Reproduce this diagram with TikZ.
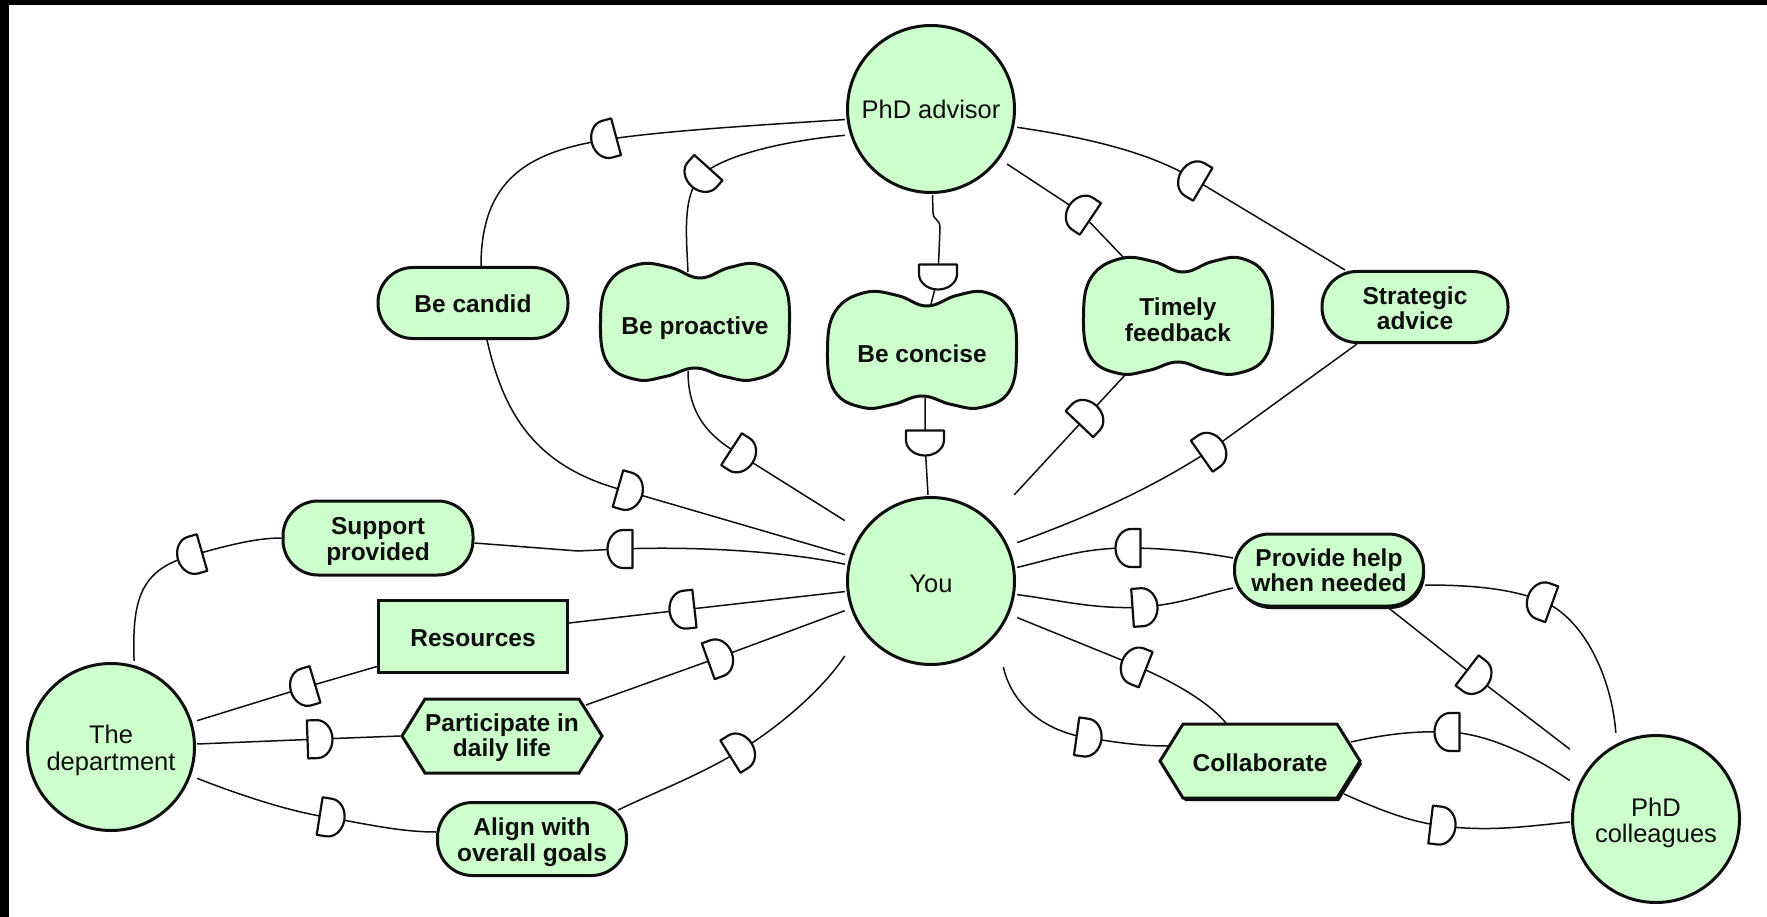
\documentclass[tikz,border=0pt]{standalone}
\usepackage{fontspec}
\setmainfont{Liberation Sans}
\usetikzlibrary{calc,shadows}

\definecolor{leaf}{RGB}{204,255,204}
\definecolor{ink}{RGB}{15,15,15}

% two-line label, set a little lower than its box is centred
\newcommand{\lowtext}[2]{\raisebox{-#1}[\height][\depth]{\begin{tabular}{@{}c@{}}#2\end{tabular}}}

\tikzset{
  ink line/.style={draw=ink, line width=3pt},
  % a strut on a one-line label sets where the text sits in its shape
  firstline/.style={execute at begin node={\rule{0pt}{#1}}},
  actor/.style={rectangle, inner sep=0pt, minimum size=172pt, align=center, text=ink,
    font=\fontsize{25.5pt}{26pt}\selectfont,
    path picture={\draw[ink line, fill=leaf] (path picture bounding box.center) circle[radius=83.5pt];}},
  labelfont/.style={font=\bfseries\fontsize{24.5pt}{25pt}\selectfont, text=ink, align=center, inner sep=0pt},
  goal/.style={labelfont, rectangle, rounded corners=35pt, ink line, fill=leaf},
  resource/.style={labelfont, rectangle, ink line, fill=leaf},
  raised/.style={drop shadow={shadow xshift=1.5pt, shadow yshift=-3pt, fill=ink, opacity=1}},
  softgoal/.style={labelfont, rectangle, minimum width=192pt, minimum height=118pt},
  task/.style={labelfont, rectangle, minimum width=203pt, minimum height=77pt},
  softshape/.pic={\draw[ink line, fill=leaf] plot[smooth cycle, tension=0.7] coordinates {
        (-94.5pt,0pt) (-86.5pt,39pt) (-57pt,57.5pt) (-24.5pt,54.5pt) (5pt,44pt)
        (34.5pt,54.5pt) (64pt,57.5pt) (88.5pt,39pt) (94.5pt,0pt) (87.5pt,-41pt)
        (59pt,-57.5pt) (29.5pt,-54.5pt) (0pt,-46pt) (-29.5pt,-54.5pt) (-59pt,-57.5pt)
        (-87.5pt,-41pt)};},
  taskshape/.pic={\draw[ink line, fill=leaf] (-100pt,0pt) -- (-77pt,37pt) -- (77pt,37pt)
        -- (100pt,0pt) -- (77pt,-37pt) -- (-77pt,-37pt) -- cycle;},
  raised taskshape/.pic={\fill[ink] (-98pt,-3pt) -- (-75pt,34pt) -- (79pt,34pt) -- (102pt,-3pt)
        -- (79pt,-40pt) -- (-75pt,-40pt) -- cycle;
      \draw[ink line, fill=leaf] (-100pt,0pt) -- (-77pt,37pt) -- (77pt,37pt)
        -- (100pt,0pt) -- (77pt,-37pt) -- (-77pt,-37pt) -- cycle;},
  link/.style={draw=ink, line width=1.5pt},
  gateline/.style={draw=ink, line width=2.2pt, fill=white, line join=round},
  dgate/.pic={\draw[gateline] (-12.5pt,-19pt) -- (-12.5pt,19pt) -- (-3pt,19pt)
      arc[start angle=90, end angle=-90, x radius=15.5pt, y radius=19pt] -- cycle;}
}

\begin{document}
\begin{tikzpicture}[x=1pt,y=-1pt]
\useasboundingbox (0,0) rectangle (1767,917);
\fill[white] (0,0) rectangle (1767,917);
\fill[black] (0,0) rectangle (1767,5);
\fill[black] (0,0) rectangle (9,917);

% actors
\node[actor] (adv) at (931,109) {PhD advisor};
\node[actor, firstline=22.5pt] (you) at (931,581) {You};
\node[actor] (dept) at (111,747) {\lowtext{4.7pt}{The\\department}};
\node[actor] (coll) at (1656,819) {\lowtext{5.5pt}{PhD\\colleagues}};

% dependums around the advisor
\node[goal, firstline=20pt, minimum width=190pt, minimum height=71pt] (candid) at (473,303) {Be candid};
\path (695,322) pic {softshape} node[softgoal, firstline=31pt] (proactive) {Be proactive};
\path (922,350) pic {softshape} node[softgoal, firstline=24.5pt] (concise) {Be concise};
\path (1178,316) pic {softshape} node[softgoal] (timely) {\lowtext{7.5pt}{Timely\\feedback}};
\node[goal, minimum width=186pt, minimum height=71pt] (strategic) at (1415,307) {\lowtext{5pt}{Strategic\\advice}};

% dependums around the department
\node[goal, minimum width=190pt, minimum height=74pt] (support) at (378,538) {\lowtext{4.5pt}{Support\\provided}};
\node[resource, firstline=22pt, minimum width=189pt, minimum height=72pt] (resources) at (473,636) {Resources};
\path (502,736) pic {taskshape} node[task] (participate) {\lowtext{3pt}{Participate in\\daily life}};
\node[goal, minimum width=189pt, minimum height=73pt] (align) at (532,839) {\lowtext{4.4pt}{Align with\\overall goals}};

% dependums around the colleagues
\node[goal, raised, minimum width=189pt, minimum height=72pt] (provide) at (1329,570) {\lowtext{4pt}{Provide help\\when needed}};
\path (1260,761) pic {raised taskshape} node[task, firstline=22pt] (collab) {Collaborate};

% positions of the dependency marks
\coordinate (g1) at (604,140);
\coordinate (g2) at (630,492);
\coordinate (g3) at (700,177);
\coordinate (g4) at (742,456);
\coordinate (g5) at (938,277);
\coordinate (g6) at (925,443);
\coordinate (g7) at (1080,212);
\coordinate (g8) at (1088,415);
\coordinate (g9) at (1192,178);
\coordinate (g10) at (1212,449);
\coordinate (g11) at (190,556);
\coordinate (g12) at (620,549);
\coordinate (g13) at (303,688);
\coordinate (g14) at (682,610);
\coordinate (g15) at (320,739);
\coordinate (g16) at (720,657);
\coordinate (g17) at (332,818);
\coordinate (g18) at (741,750);
\coordinate (g19) at (1128,548);
\coordinate (g20) at (1145,607);
\coordinate (g21) at (1540,600);
\coordinate (g22) at (1477,678);
\coordinate (g23) at (1134,665);
\coordinate (g24) at (1089,738);
\coordinate (g25) at (1447,732);
\coordinate (g26) at (1443,826);

% advisor links
\draw[link] (adv.187.5) .. controls (760,125) and (660,131) .. (g1)
  .. controls (530,152) and (481,178) .. ($(candid.north)+(8,0)$);
\draw[link] ($(candid.south)+(14,0)$) .. controls (505,420) and (540,470) .. (g2) -- (you.163.4);
\draw[link] (adv.197) .. controls (790,140) and (720,155) .. (g3)
  .. controls (683,196) and (686,232) .. ($(proactive.center)+(-7,-50)$);
\draw[link] ($(proactive.center)+(-7,49)$) .. controls (688,420) and (715,440) .. (g4) -- (you.145.6);
\draw[link] (adv.271) -- (933,212) .. controls (933,221) and (940,218) .. (940,228) -- (g5)
  -- ($(concise.center)+(9,-46)$);
\draw[link] ($(concise.center)+(3,48)$) -- (g6) -- (you.92.7);
\draw[link] ($(adv.center)+(76,55)$) -- (g7) -- ($(timely.center)+(-54,-58)$);
\draw[link] ($(timely.center)+(-52,58)$) -- (g8) -- (you.46.4);
\draw[link] (adv.-12) .. controls (1090,138) and (1150,153) .. (g9) -- ($(strategic.north)+(-70,0)$);
\draw[link] ($(strategic.south)+(-58,0)$) -- (g10) .. controls (1150,490) and (1080,520) .. (you.24.3);

% department links
\draw[link] (dept.75.5) .. controls (132,600) and (140,570) .. (g11)
  .. controls (225,546) and (255,538) .. (support.west);
\draw[link] ($(support.east)+(0,5)$) -- (578,551) -- (g12)
  .. controls (700,546) and (790,552) .. (you.169.9);
\draw[link] (dept.17.4) -- (g13) -- ($(resources.south west)+(0,-7)$);
\draw[link] ($(resources.east)+(0,-13)$) -- (g14) -- (you.187.3);
\draw[link] (dept.2) -- (g15) -- (participate.west);
\draw[link] ($(participate.center)+(84,-31)$) -- (g16) -- (you.199.8);
\draw[link] (dept.-20) .. controls (240,795) and (290,812) .. (g17)
  .. controls (375,826) and (405,832) .. ($(align.west)+(0,-7)$);
\draw[link] ($(align.north east)+(-10,9)$) .. controls (660,790) and (700,775) .. (g18)
  .. controls (780,726) and (822,690) .. (you.221.5);

% colleague links
\draw[link] (you.9.4) .. controls (1050,560) and (1080,548) .. (g19)
  .. controls (1165,548) and (1200,552) .. ($(provide.west)+(0,-12)$);
\draw[link] (you.-9.4) .. controls (1060,600) and (1095,610) .. (g20)
  .. controls (1185,603) and (1205,594) .. ($(provide.west)+(0,18)$);
\draw[link] ($(provide.east)+(0,15)$) .. controls (1480,585) and (1512,590) .. (g21)
  .. controls (1585,617) and (1612,680) .. (coll.115);
\draw[link] ($(provide.south)+(59,0)$) -- (g22) -- (coll.141);
\draw[link] (you.-23.8) -- (g23) .. controls (1175,682) and (1210,703) .. ($(collab.north)+(-33,2)$);
\draw[link] (you.-50.9) .. controls (1012,705) and (1045,732) .. (g24)
  .. controls (1120,743) and (1142,746) .. ($(collab.center)+(-92,-15)$);
\draw[link] ($(collab.center)+(91,-19)$) .. controls (1390,733) and (1420,731) .. (g25)
  .. controls (1490,733) and (1540,760) .. (coll.156);
\draw[link] ($(collab.center)+(84,33)$) .. controls (1380,810) and (1410,822) .. (g26)
  .. controls (1490,832) and (1530,826) .. (coll.182);

% dependency marks, rounded side towards the dependee
\pic[rotate=195] at (g1) {dgate};
\pic[rotate=-16] at (g2) {dgate};
\pic[rotate=228] at (g3) {dgate};
\pic[rotate=-33] at (g4) {dgate};
\pic[rotate=-90] at (g5) {dgate};
\pic[rotate=-90] at (g6) {dgate};
\pic[rotate=146] at (g7) {dgate};
\pic[rotate=46.5] at (g8) {dgate};
\pic[rotate=149.5] at (g9) {dgate};
\pic[rotate=35] at (g10) {dgate};
\pic[rotate=196] at (g11) {dgate};
\pic[rotate=180] at (g12) {dgate};
\pic[rotate=196.7] at (g13) {dgate};
\pic[rotate=186.4] at (g14) {dgate};
\pic[rotate=2] at (g15) {dgate};
\pic[rotate=19.8] at (g16) {dgate};
\pic[rotate=-9] at (g17) {dgate};
\pic[rotate=32] at (g18) {dgate};
\pic[rotate=180] at (g19) {dgate};
\pic[rotate=4] at (g20) {dgate};
\pic[rotate=160] at (g21) {dgate};
\pic[rotate=-37.4] at (g22) {dgate};
\pic[rotate=158.5] at (g23) {dgate};
\pic[rotate=-8] at (g24) {dgate};
\pic[rotate=180] at (g25) {dgate};
\pic[rotate=-7] at (g26) {dgate};
\end{tikzpicture}
\end{document}
